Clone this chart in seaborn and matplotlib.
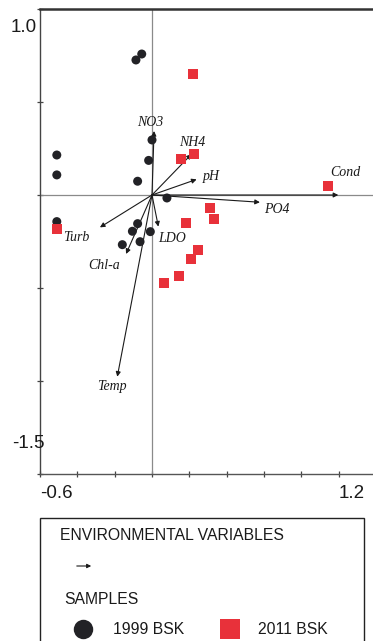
import matplotlib
matplotlib.use("Agg")
import matplotlib.pyplot as plt
import seaborn as sns
import pandas as pd
import numpy as np
from matplotlib.patches import Rectangle
from matplotlib.lines import Line2D

sns.set_theme(style="white")
plt.rcParams['font.family'] = ['Liberation Sans', 'DejaVu Sans']

# ---- data ----
s1999_x = [-0.055, -0.086, -0.51, -0.51, 0.0, -0.018, -0.077, 0.080, -0.51, -0.077, -0.105, -0.009, -0.159, -0.064]
s1999_y = [0.758, 0.726, 0.215, 0.108, 0.296, 0.186, 0.074, -0.016, -0.143, -0.154, -0.195, -0.197, -0.267, -0.251]
s2011_x = [0.221, 0.155, 0.227, 0.944, 0.311, 0.334, 0.182, -0.51, 0.245, 0.209, 0.146, 0.064]
s2011_y = [0.649, 0.194, 0.219, 0.048, -0.072, -0.131, -0.149, -0.184, -0.297, -0.342, -0.437, -0.471]

env_names = ["NO3", "NH4", "pH", "Cond", "PO4", "Turb", "LDO", "Chl-a", "Temp"]
env_x = [0.011, 0.212, 0.239, 0.998, 0.578, -0.279, 0.034, -0.139, -0.186]
env_y = [0.344, 0.220, 0.084, 0.000, -0.039, -0.174, -0.170, -0.317, -0.977]

x_ticks = [-0.6, -0.4, -0.2, 0.0, 0.2, 0.4, 0.6, 0.8, 1.0, 1.2]
y_ticks = [1.0, 0.5, 0.0, -0.5, -1.0, -1.5]

# label offsets (pixels) relative to arrow tips -- layout only
label_offsets = {"NO3": (-4, 9), "NH4": (1, 12), "pH": (15, 3), "Cond": (7, 22),
                 "PO4": (17, -7), "Turb": (-24, -10), "LDO": (14, -12),
                 "Chl-a": (-22, -12), "Temp": (-5, -10)}

df1 = pd.DataFrame({"x": s1999_x, "y": s1999_y, "group": "1999 BSK"})
df2 = pd.DataFrame({"x": s2011_x, "y": s2011_y, "group": "2011 BSK"})

BLACK = "#222226"
RED = "#e8313a"

W, H = 373, 641
fig = plt.figure(figsize=(W / 100, H / 100), dpi=100)
ax_left, ax_right, ax_top, ax_bot = 40, 376, 9, 474
ax = fig.add_axes([ax_left / W, (H - ax_bot) / H, (ax_right - ax_left) / W, (ax_bot - ax_top) / H])
ax.set_xlim(-0.6, 1.2)
ax.set_ylim(-1.5, 1.0)
ax.set_facecolor("white")

# zero lines
ax.axhline(0, color="#8a8a8a", lw=0.9, zorder=1)
ax.axvline(0, color="#8a8a8a", lw=0.9, zorder=1)

# environmental arrows
for name, ex, ey in zip(env_names, env_x, env_y):
    ax.annotate("", xy=(ex, ey), xytext=(0, 0),
                arrowprops=dict(arrowstyle="-|>", lw=0.8, color="#1a1a1a",
                                mutation_scale=7, shrinkA=0, shrinkB=0),
                zorder=2)
    dx, dy = label_offsets[name]
    ax.annotate(name, xy=(ex, ey), xytext=(dx, dy), textcoords="offset pixels",
                ha="center", va="center", fontsize=10, style="italic",
                family="Liberation Serif", color="#1a1a1a", zorder=5)

# samples
sns.scatterplot(data=df1, x="x", y="y", ax=ax, color=BLACK, marker="o", s=42,
                edgecolor="none", linewidth=0, legend=False, zorder=3)
sns.scatterplot(data=df2, x="x", y="y", ax=ax, color=RED, marker="s", s=52,
                edgecolor="none", linewidth=0, legend=False, zorder=4)

ax.set_xlabel("")
ax.set_ylabel("")
ax.set_xticks(x_ticks)
ax.set_yticks(y_ticks)
ax.set_xticklabels([])
ax.set_yticklabels([])
ax.tick_params(axis="both", direction="inout", length=4, width=0.9, color="#444444",
               bottom=True, left=True)
for side in ["right"]:
    ax.spines[side].set_visible(False)
ax.spines["top"].set_color("#333333")
ax.spines["top"].set_linewidth(1.8)
ax.spines["left"].set_color("#444444")
ax.spines["left"].set_linewidth(1.0)
ax.spines["bottom"].set_color("#555555")
ax.spines["bottom"].set_linewidth(1.0)

# axis end labels (CANOCO style)
def ftext(px, py, s, **kw):
    fig.text(px / W, 1 - py / H, s, **kw)

ftext(37, 27, "1.0", ha="right", va="center", fontsize=13.5, color="#1a1a1a")
ftext(45, 443, "-1.5", ha="right", va="center", fontsize=13.5, color="#1a1a1a")
ftext(40, 493, "-0.6", ha="left", va="center", fontsize=13.5, color="#1a1a1a")
ftext(365, 493, "1.2", ha="right", va="center", fontsize=13.5, color="#1a1a1a")

# legend box
fig.patches.append(Rectangle((40 / W, 0 - 0.01), (364 - 40) / W, 1 - 518 / H + 0.01,
                             transform=fig.transFigure, fill=False,
                             edgecolor="#222222", lw=1.0))
ftext(60, 535, "ENVIRONMENTAL VARIABLES", ha="left", va="center", fontsize=11.3, color="#1a1a1a")
fig.patches.append(matplotlib.patches.FancyArrowPatch(
    (74 / W, 1 - 566 / H), (94 / W, 1 - 566 / H), transform=fig.transFigure,
    arrowstyle="-|>", mutation_scale=6, lw=0.8, color="#1a1a1a"))
ftext(64, 599, "SAMPLES", ha="left", va="center", fontsize=11.3, color="#1a1a1a")
fig.lines.append(Line2D([83 / W], [1 - 629 / H], transform=fig.transFigure, marker="o",
                        markersize=14, color=BLACK, markeredgewidth=0, linestyle="none"))
ftext(113, 629, "1999 BSK", ha="left", va="center", fontsize=11.3, color="#1a1a1a")
fig.lines.append(Line2D([230 / W], [1 - 629 / H], transform=fig.transFigure, marker="s",
                        markersize=14.5, color=RED, markeredgewidth=0, linestyle="none"))
ftext(258, 629, "2011 BSK", ha="left", va="center", fontsize=11.3, color="#1a1a1a")

fig.savefig("out.png", dpi=100, facecolor="white")
